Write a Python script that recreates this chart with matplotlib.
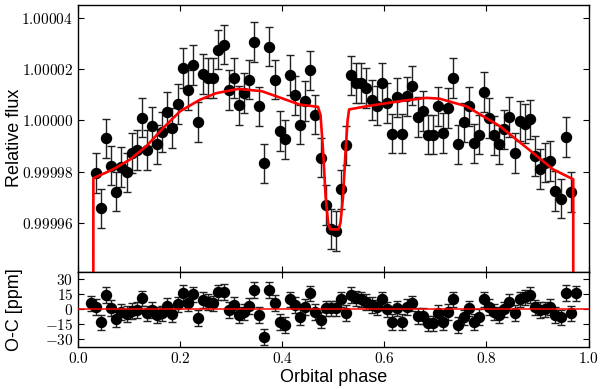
import matplotlib
matplotlib.use('Agg')
import matplotlib.pyplot as plt
from matplotlib.ticker import FuncFormatter
import numpy as np

plt.rcParams['mathtext.fontset'] = 'cm'
plt.rcParams['font.family'] = 'Liberation Sans'

# phase bins (0.025 ... 0.975)
phase = [0.025, 0.035, 0.045, 0.055, 0.065, 0.075, 0.085, 0.095, 0.105, 0.115,
         0.125, 0.135, 0.145, 0.155, 0.165, 0.175, 0.185, 0.195, 0.205, 0.215,
         0.225, 0.235, 0.245, 0.255, 0.265, 0.275, 0.285, 0.295, 0.305, 0.315,
         0.325, 0.335, 0.345, 0.355, 0.365, 0.375, 0.385, 0.395, 0.405, 0.415,
         0.425, 0.435, 0.445, 0.455, 0.465, 0.475, 0.485, 0.495, 0.505, 0.515,
         0.525, 0.535, 0.545, 0.555, 0.565, 0.575, 0.585, 0.595, 0.605, 0.615,
         0.625, 0.635, 0.645, 0.655, 0.665, 0.675, 0.685, 0.695, 0.705, 0.715,
         0.725, 0.735, 0.745, 0.755, 0.765, 0.775, 0.785, 0.795, 0.805, 0.815,
         0.825, 0.835, 0.845, 0.855, 0.865, 0.875, 0.885, 0.895, 0.905, 0.915,
         0.925, 0.935, 0.945, 0.955, 0.965, 0.975]

# relative flux minus 1, in ppm (first/last bin are in transit, off the plot)
flux_ppm = [np.nan, -20.6, -34.3, -7.1, -17.7, -27.8, -18.3, -20.3, -12.7, -11.7,
            1.0, -11.7, -2.4, -9.4, -4.5, 3.3, -3.0, 6.4, 20.3, 11.7,
            21.6, -0.6, 18.1, 16.5, 16.5, 27.5, 29.4, 11.7, 16.5, 5.8,
            10.6, 15.8, 30.4, 5.4, -16.8, 28.7, 15.8, -4.3, -7.5, 17.7,
            9.7, -1.7, 7.4, 19.4, 2.2, -14.6, -33.0, -42.4, -43.1, -26.9,
            -9.8, 17.5, 14.5, 14.5, 12.6, 7.8, 5.7, 14.5, 6.8, -5.2,
            8.9, -5.2, 9.3, 13.5, 1.3, 3.5, -5.6, -5.6, 5.4, -4.9,
            4.8, 16.5, -9.4, -0.8, 5.4, -9.0, -5.6, 10.9, 0.9, -5.9,
            -9.4, -3.6, 1.2, -12.7, -0.4, -1.3, 0.3, -14.0, -19.1, -16.5,
            -15.9, -27.6, -30.5, -6.6, -28.0, np.nan]

# O-C residuals in ppm
resid_ppm = [5.7, 2.3, -13.3, 14.0, 1.3, -10.3, -2.7, -5.0, -2.0, -1.0,
             10.7, -4.3, -1.0, -6.0, -4.3, 3.0, -5.3, 4.7, 16.3, 5.7,
             14.7, -8.7, 9.0, 7.3, 5.7, 16.7, 17.3, -1.0, 4.0, -6.0,
             -2.7, 3.3, 19.0, -6.0, -27.7, 19.0, 6.3, -12.7, -16.0, 9.7,
             4.0, -7.7, 2.3, 15.7, -2.7, -11.0, 0.7, 0.7, 0.7, 9.7,
             -3.7, 14.0, 10.7, 9.7, 7.3, 4.0, 1.7, 9.7, -0.3, -12.7,
             0.7, -12.7, 2.3, 5.7, -7.0, -7.0, -14.3, -14.3, -3.7, -12.7,
             -2.7, 9.7, -16.0, -8.3, 0.7, -12.7, -7.7, 9.7, 2.3, -2.7,
             -6.0, -0.3, 7.3, -3.7, 9.7, 11.7, 14.0, 1.7, -1.0, -0.3,
             2.3, -6.0, -8.3, 16.3, -4.3, 15.7]

err_ppm = 7.7

# best-fit model, in ppm
model_phase = [0.030, 0.0301, 0.069, 0.102, 0.134, 0.167, 0.200, 0.239, 0.270, 0.314,
               0.360, 0.400, 0.434, 0.470, 0.475, 0.480, 0.485, 0.490, 0.494, 0.510,
               0.514, 0.519, 0.524, 0.528, 0.531, 0.564, 0.630, 0.682, 0.708, 0.761,
               0.826, 0.891, 0.930, 0.9699, 0.970]
model_ppm = [-90, -22.6, -19.1, -15.3, -10.1, -3.0, 3.5, 8.0, 10.5, 12.2,
             11.3, 8.5, 6.1, 5.2, 2.0, -12.0, -30.0, -40.0, -42.5, -42.5,
             -40.0, -30.0, -12.0, 0.0, 4.2, 5.4, 7.4, 8.7, 8.4, 5.4,
             -2.3, -12.7, -19.1, -23.0, -90]

phase = np.array(phase)
flux = 1 + np.array(flux_ppm) * 1e-6
model = 1 + np.array(model_ppm) * 1e-6

fig = plt.figure(figsize=(6.0, 3.89), dpi=100)
ax1 = fig.add_axes([0.13, 0.3015, 0.851, 0.6865])
ax2 = fig.add_axes([0.13, 0.109, 0.851, 0.1925], sharex=ax1)

ax1.errorbar(phase, flux, yerr=err_ppm * 1e-6, fmt='o', color='black', ms=7.2,
             ecolor='#222222', elinewidth=1.0, capsize=2.7, capthick=1.0, zorder=2)
ax1.plot(model_phase, model, color='red', lw=1.9, zorder=3)
ax1.set_ylim(0.999941, 1.000045)
ax1.set_yticks([0.99996, 0.99998, 1.0, 1.00002, 1.00004])
ax1.yaxis.set_major_formatter(FuncFormatter(lambda v, p: r'$%.5f$' % v))
ax1.set_ylabel('Relative flux', fontsize=13)
plt.setp(ax1.get_xticklabels(), visible=False)

ax2.errorbar(phase, resid_ppm, yerr=err_ppm, fmt='o', color='black', ms=7.2,
             ecolor='#222222', elinewidth=1.0, capsize=2.7, capthick=1.0, zorder=2)
ax2.axhline(0, color='red', lw=1.1, zorder=3)
ax2.set_ylim(-37.5, 37.5)
ax2.set_yticks([-30, -15, 0, 15, 30])
ax2.yaxis.set_major_formatter(FuncFormatter(lambda v, p: r'$%d$' % v))
ax2.set_xlim(0, 1)
ax2.set_xticks([0.0, 0.2, 0.4, 0.6, 0.8, 1.0])
ax2.xaxis.set_major_formatter(FuncFormatter(lambda v, p: r'$%.1f$' % v))
ax2.set_ylabel('O-C [ppm]', fontsize=13)
ax2.set_xlabel('Orbital phase', fontsize=13, labelpad=2)

for ax in (ax1, ax2):
    ax.tick_params(direction='in', top=True, right=True, length=4, width=0.8,
                   labelsize=11)
    for s in ax.spines.values():
        s.set_linewidth(1.0)
    ax.yaxis.set_label_coords(-0.108, 0.5)

fig.savefig('out.png', dpi=100)
